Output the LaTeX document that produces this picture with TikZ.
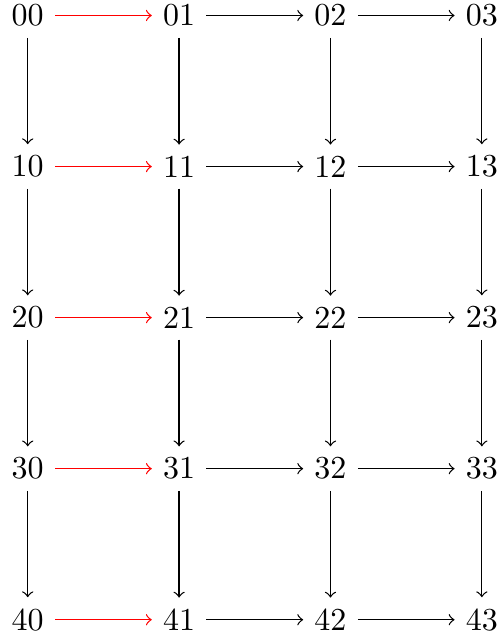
\documentclass[tikz,border=0pt]{standalone}
\begin{document}
\begin{tikzpicture}[x=1pt,y=-1pt,
  lbl/.style={font=\fontsize{10}{12}\selectfont, inner sep=3.33pt},
  arr/.style={->, line width=0.4pt},
  redarr/.style={->, line width=0.4pt, red}]
\useasboundingbox (0,0) rectangle (155.6,200.6);
\foreach \r in {0,...,4}{
  \foreach \c in {0,...,3}{
    \node[lbl] (n\r\c) at ({8.66+47.3*\c},{4.84+47.2*\r}) {\r\c};
  }
}
\foreach \r in {0,...,4}{
  \draw[redarr] (n\r0) -- (n\r1);
  \draw[arr] (n\r1) -- (n\r2);
  \draw[arr] (n\r2) -- (n\r3);
}
\foreach \r [evaluate=\r as \s using int(\r+1)] in {0,...,3}{
  \foreach \c in {0,...,3}{
    \draw[arr] (n\r\c) -- (n\s\c);
  }
}
\end{tikzpicture}
\end{document}
